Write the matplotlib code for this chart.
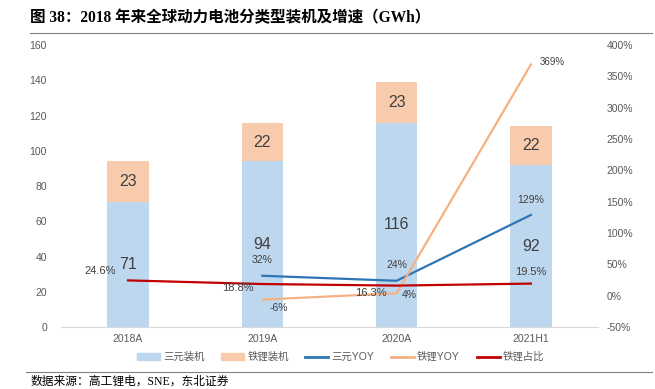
import matplotlib.pyplot as plt
import numpy as np
from matplotlib.lines import Line2D
from matplotlib.patches import Patch

plt.rcParams['font.family'] = ['Liberation Sans', 'Noto Sans CJK SC']

# Data
categories = ["2018A", "2019A", "2020A", "2021H1"]
ternary = [71, 94, 116, 92]
lfp = [23, 22, 23, 22]
ternary_yoy = [None, 0.32, 0.24, 1.29]
lfp_yoy = [None, -0.06, 0.04, 3.69]
lfp_share = [0.246, 0.188, 0.163, 0.195]

c_tern = "#BDD7EE"
c_lfp = "#F8CBAD"
c_tern_yoy = "#2E75B6"
c_lfp_yoy = "#F4B183"
c_share = "#C00000"
txt = "#404040"
serif = ['Liberation Serif', 'Noto Sans CJK SC']


def main():
    fig = plt.figure(figsize=(6.55, 3.89), dpi=100)
    ax = fig.add_axes([0.093, 0.159, 0.82, 0.725])
    x = np.arange(len(categories))
    w = 0.31

    ax.bar(x, ternary, w, color=c_tern)
    ax.bar(x, lfp, w, bottom=ternary, color=c_lfp)
    for i in range(len(x)):
        ax.text(x[i], ternary[i] / 2, str(ternary[i]), ha="center", va="center",
                fontsize=11.5, color=txt)
        ax.text(x[i], ternary[i] + lfp[i] / 2, str(lfp[i]), ha="center",
                va="center", fontsize=11.5, color=txt)

    ax.set_xlim(-0.5, len(x) - 0.5)
    ax.set_ylim(0, 160)
    ax.set_yticks(range(0, 161, 20))
    ax.set_xticks(x)
    ax.set_xticklabels(categories)
    ax.tick_params(axis="both", length=0, labelsize=7.5, labelcolor="#595959")
    ax.tick_params(axis="y", pad=10)
    ax.tick_params(axis="x", pad=5)
    for s in ["top", "right", "left"]:
        ax.spines[s].set_visible(False)
    ax.spines["bottom"].set_color("#D9D9D9")

    # right axis: growth rates and share
    ax2 = ax.twinx()
    rticks = np.arange(-0.5, 4.01, 0.5)
    ax2.set_ylim(-0.5, 4.0)
    ax2.set_yticks(rticks)
    ax2.set_yticklabels([f"{int(round(v * 100))}%" for v in rticks])
    ax2.tick_params(axis="y", length=0, labelsize=7.5, labelcolor="#595959", pad=6)
    for s in ax2.spines.values():
        s.set_visible(False)

    ax2.plot(x[1:], ternary_yoy[1:], color=c_tern_yoy, lw=1.6)
    ax2.plot(x[1:], lfp_yoy[1:], color=c_lfp_yoy, lw=1.6)
    ax2.plot(x, lfp_share, color=c_share, lw=1.6)

    fs = 7.5
    for i in range(1, 4):
        ax2.annotate(f"{ternary_yoy[i] * 100:.0f}%", (x[i], ternary_yoy[i]),
                     xytext=(0, 11), textcoords="offset points", ha="center",
                     va="center", fontsize=fs, color=txt)
    yoy_off = {1: (12, -6), 2: (9, -1)}
    for i, off in yoy_off.items():
        ax2.annotate(f"{lfp_yoy[i] * 100:.0f}%", (x[i], lfp_yoy[i]),
                     xytext=off, textcoords="offset points", ha="center",
                     va="center", fontsize=fs, color=txt)
    ax2.annotate(f"{lfp_yoy[3] * 100:.0f}%", (x[3], lfp_yoy[3]),
                 xytext=(6, 2), textcoords="offset points", ha="left",
                 va="center", fontsize=7, color=txt)

    share_off = [(-9, 7), (-6, -3), (-7, -5), (0, 8)]
    for i in range(4):
        dx, dy = share_off[i]
        ax2.annotate(f"{lfp_share[i] * 100:.1f}%", (x[i], lfp_share[i]),
                     xytext=(dx, dy), textcoords="offset points",
                     ha="right" if dx < 0 else "center", va="center",
                     fontsize=8, color=txt)

    handles = [
        Patch(color=c_tern), Patch(color=c_lfp),
        Line2D([], [], color=c_tern_yoy, lw=2),
        Line2D([], [], color=c_lfp_yoy, lw=2),
        Line2D([], [], color=c_share, lw=2),
    ]
    labels = ["三元装机", "铁锂装机", "三元YOY", "铁锂YOY", "铁锂占比"]
    fig.legend(handles, labels, loc="center", bbox_to_anchor=(0.52, 0.082),
               ncol=5, frameon=False, fontsize=7.5, handlelength=2.2,
               handleheight=0.7, columnspacing=1.6, handletextpad=0.3,
               labelcolor="#595959")

    fig.text(0.046, 0.953, "图 38：2018 年来全球动力电池分类型装机及增速（GWh）",
             fontsize=11.2, fontweight="bold", ha="left", va="center",
             family=serif)
    fig.add_artist(Line2D([0.046, 0.995], [0.915, 0.915], color="#808080", lw=0.8))
    fig.add_artist(Line2D([0.04, 0.995], [0.044, 0.044], color="#808080", lw=0.8))
    fig.text(0.046, 0.018, "数据来源：高工锂电，SNE，东北证券", fontsize=8.5,
             ha="left", va="center", family=serif)

    plt.savefig("out.png", dpi=100)


if __name__ == "__main__":
    main()
